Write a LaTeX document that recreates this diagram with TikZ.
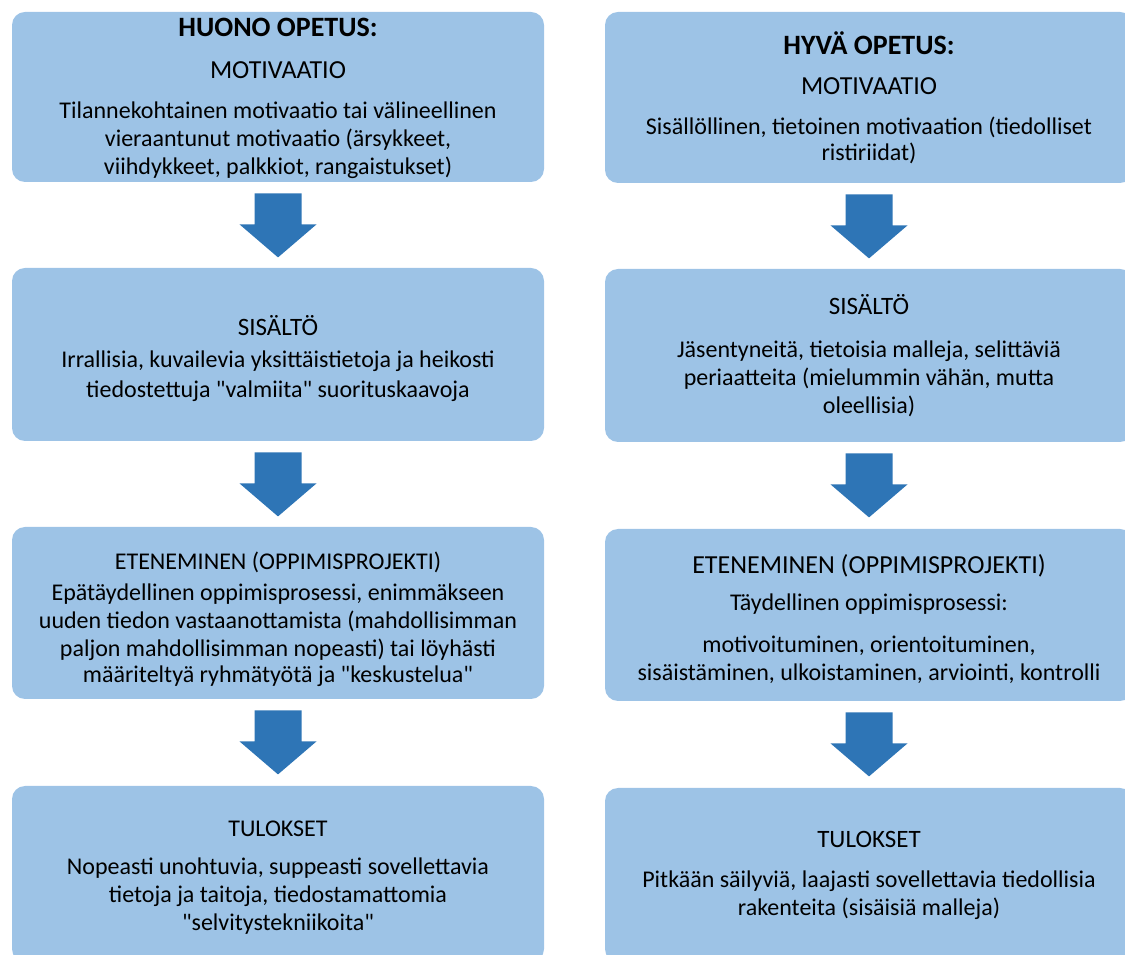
\documentclass[tikz,border=0pt]{standalone}
\usepackage{fontspec}
\setmainfont{Carlito}
\definecolor{boxblue}{HTML}{9DC3E6}
\definecolor{arrowblue}{HTML}{2E75B6}
\newcommand{\topgap}[1]{\rule{0pt}{#1}}
\newcommand{\fs}[2]{{\fontsize{#1}{14}\selectfont #2}}
\begin{document}
\begin{tikzpicture}[
        x = 1pt, y = 1pt,
        box/.style = {fill=boxblue, rounded corners=6.5pt, align=center, inner sep=0pt,
                      font=\fontsize{12}{14}\selectfont},
        bad/.style = {box, minimum width=266pt},
        good/.style = {box, minimum width=264pt},
        down/.style = {fill=arrowblue}
    ]
    \useasboundingbox (0,0) rectangle (562.5,477);
    %--- Huono opetus ---%
        \node (a1) [bad, minimum height=85pt] at (139,428.5)
            {\topgap{11pt}\fs{14}{\bfseries HUONO OPETUS:}\\[7pt] \fs{13}{MOTIVAATIO}\\[6pt]
             Tilannekohtainen motivaatio tai välineellinen\\
             vieraantunut motivaatio (ärsykkeet,\\
             viihdykkeet, palkkiot, rangaistukset)};
        \node (a2) [bad, minimum height=86.5pt] at (139,299.75)
            {\topgap{14pt}\fs{12.5}{SISÄLTÖ}\\[2pt]
             Irrallisia, kuvailevia yksittäistietoja ja heikosti\\[1pt]
             tiedostettuja \textquotedbl valmiita\textquotedbl{} suorituskaavoja};
        \node (a3) [bad, minimum height=86pt] at (139,170.5)
            {\topgap{15pt}ETENEMINEN (OPPIMISPROJEKTI)\\[1.5pt]
             Epätäydellinen oppimisprosessi, enimmäkseen\\
             uuden tiedon vastaanottamista (mahdollisimman\\
             paljon mahdollisimman nopeasti) tai löyhästi\\[-1pt]
             määriteltyä ryhmätyötä ja \textquotedbl keskustelua\textquotedbl};
        \node (a4) [bad, minimum height=88pt] at (139,40)
            {\topgap{11pt}TULOKSET\\[5pt]
             Nopeasti unohtuvia, suppeasti sovellettavia\\
             tietoja ja taitoja, tiedostamattomia\\
             \textquotedbl selvitystekniikoita\textquotedbl};
    %--- Hyvä opetus ---%
        \node (b1) [good, minimum height=85.5pt] at (434.5,428.25)
            {\topgap{11.5pt}\fs{14}{\bfseries HYVÄ OPETUS:}\\[6pt] \fs{13}{MOTIVAATIO}\\[6pt]
             Sisällöllinen, tietoinen motivaation (tiedolliset\\[-1pt]
             ristiriidat)};
        \node (b2) [good, minimum height=86.5pt] at (434.5,299.25)
            {\fs{12.5}{SISÄLTÖ}\\[7.5pt]
             Jäsentyneitä, tietoisia malleja, selittäviä\\
             periaatteita (mielummin vähän, mutta\\
             oleellisia)};
        \node (b3) [good, minimum height=86pt] at (434.5,169.5)
            {\topgap{14pt}\fs{13}{ETENEMINEN (OPPIMISPROJEKTI)}\\[4.5pt]
             Täydellinen oppimisprosessi:\\[7pt]
             motivoituminen, orientoituminen,\\
             sisäistäminen, ulkoistaminen, arviointi, kontrolli};
        \node (b4) [good, minimum height=87pt] at (434.5,39.5)
            {\fs{12.5}{TULOKSET}\\[6pt]
             Pitkään säilyviä, laajasti sovellettavia tiedollisia\\
             rakenteita (sisäisiä malleja)};
    %--- Draw Arrows ---%
        \foreach \s in {a1,a2,a3,b1,b2,b3}
            \fill[down] ([shift={(-11.75,-5.5)}]\s.south) -- ++(23.5,0) -- ++(0,-15.5)
                -- ++(7.5,0) -- ++(-19.25,-16.5) -- ++(-19.25,16.5) -- ++(7.5,0) -- cycle;
\end{tikzpicture}
\end{document}
